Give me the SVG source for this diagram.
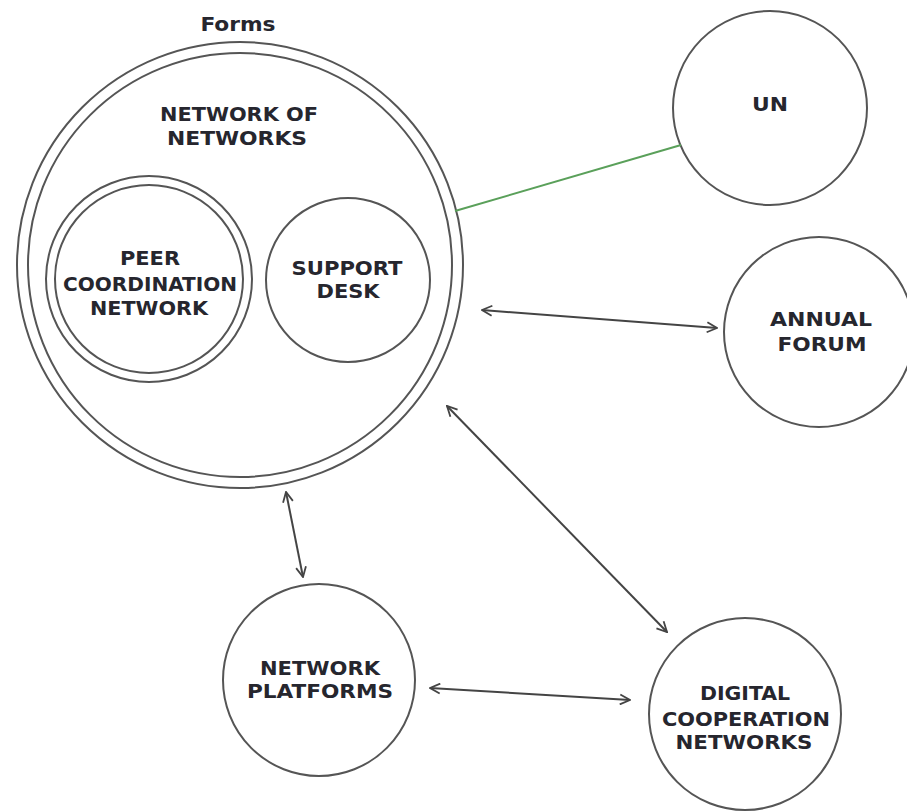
<svg xmlns="http://www.w3.org/2000/svg" width="907" height="811" viewBox="0 0 907 811">
<defs>
<style>
.ring{fill:none;stroke:#555;stroke-width:2}
.lbl{font-family:"DejaVu Sans Condensed","Liberation Sans Narrow","Liberation Sans",sans-serif;font-stretch:condensed;font-weight:bold;font-size:20px;fill:#26262e;text-anchor:middle}
.con{fill:none;stroke:#444;stroke-width:2}
.green{fill:none;stroke:#5aa05a;stroke-width:2}
</style>
<marker id="ah" viewBox="0 0 12 12" refX="11" refY="6" markerWidth="12" markerHeight="12" markerUnits="userSpaceOnUse" orient="auto-start-reverse">
<path d="M1,1 L11,6 L1,11" fill="none" stroke="#444" stroke-width="1.8"/>
</marker>
</defs>
<rect width="907" height="811" fill="#fff"/>
<text class="lbl" x="238" y="31" textLength="75" lengthAdjust="spacingAndGlyphs" style="font-size:19px">Forms</text>
<g id="network-of-networks">
<circle class="ring" cx="240" cy="265" r="223"/>
<circle class="ring" cx="240" cy="265" r="212"/>
<text class="lbl" x="239" y="121" textLength="158" lengthAdjust="spacingAndGlyphs">NETWORK OF</text>
<text class="lbl" x="237" y="145" textLength="140" lengthAdjust="spacingAndGlyphs">NETWORKS</text>
</g>
<g id="peer-coordination-network">
<circle class="ring" cx="149" cy="279" r="103"/>
<circle class="ring" cx="149" cy="279" r="94"/>
<text class="lbl" x="150" y="265" textLength="60" lengthAdjust="spacingAndGlyphs">PEER</text>
<text class="lbl" x="150" y="291" textLength="174" lengthAdjust="spacingAndGlyphs">COORDINATION</text>
<text class="lbl" x="149" y="315" textLength="118" lengthAdjust="spacingAndGlyphs">NETWORK</text>
</g>
<g id="support-desk">
<circle class="ring" cx="348" cy="280" r="82"/>
<text class="lbl" x="347" y="275" textLength="111" lengthAdjust="spacingAndGlyphs">SUPPORT</text>
<text class="lbl" x="348" y="298" textLength="63" lengthAdjust="spacingAndGlyphs">DESK</text>
</g>
<g id="un">
<circle class="ring" cx="770" cy="108" r="97"/>
<text class="lbl" x="770" y="111" textLength="36" lengthAdjust="spacingAndGlyphs">UN</text>
</g>
<g id="annual-forum">
<circle class="ring" cx="819" cy="332" r="95"/>
<text class="lbl" x="821" y="326" textLength="102" lengthAdjust="spacingAndGlyphs">ANNUAL</text>
<text class="lbl" x="822" y="351" textLength="89" lengthAdjust="spacingAndGlyphs">FORUM</text>
</g>
<g id="network-platforms">
<circle class="ring" cx="319" cy="680" r="96"/>
<text class="lbl" x="320" y="675" textLength="120" lengthAdjust="spacingAndGlyphs">NETWORK</text>
<text class="lbl" x="320" y="698" textLength="146" lengthAdjust="spacingAndGlyphs">PLATFORMS</text>
</g>
<g id="digital-cooperation-networks">
<circle class="ring" cx="745" cy="714" r="96"/>
<text class="lbl" x="745" y="700" textLength="90" lengthAdjust="spacingAndGlyphs">DIGITAL</text>
<text class="lbl" x="746" y="726" textLength="168" lengthAdjust="spacingAndGlyphs">COOPERATION</text>
<text class="lbl" x="744" y="749" textLength="137" lengthAdjust="spacingAndGlyphs">NETWORKS</text>
</g>
<g id="connectors">
<line class="green" x1="455" y1="211" x2="681" y2="145"/>
<line class="con" x1="482" y1="310" x2="717" y2="328" marker-start="url(#ah)" marker-end="url(#ah)"/>
<line class="con" x1="447" y1="406" x2="667" y2="632" marker-start="url(#ah)" marker-end="url(#ah)"/>
<line class="con" x1="286" y1="492" x2="303" y2="577" marker-start="url(#ah)" marker-end="url(#ah)"/>
<line class="con" x1="430" y1="688" x2="630" y2="700" marker-start="url(#ah)" marker-end="url(#ah)"/>
</g>
</svg>
